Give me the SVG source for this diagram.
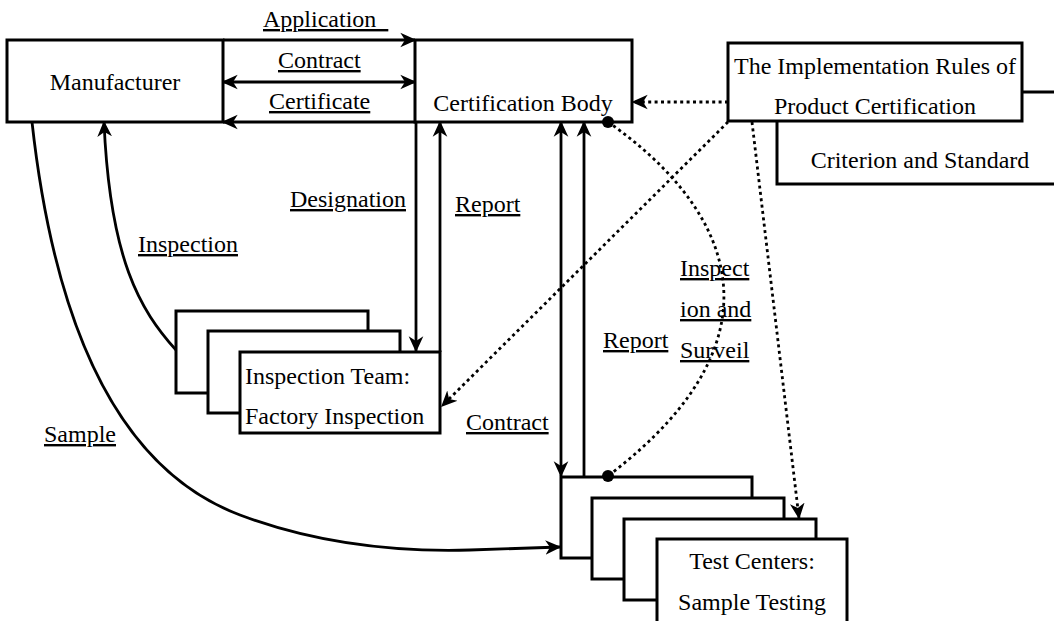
<svg xmlns="http://www.w3.org/2000/svg" width="1054" height="621" viewBox="0 0 1054 621">
  <style>
    .box { fill: #fff; stroke: #000; stroke-width: 3; }
    .t { font-family: "Liberation Serif", "Times New Roman", serif; font-size: 24px; fill: #000; }
    .c { text-anchor: middle; }
    .lbl { text-decoration: underline; }
    .ln { fill: none; stroke: #000; stroke-width: 2.8; }
    .dot { fill: none; stroke: #000; stroke-width: 2.8; stroke-dasharray: 3 3.4; }
  </style>
  <defs>
    <marker id="arr" viewBox="0 0 12 12" refX="11" refY="6" markerWidth="16" markerHeight="16" markerUnits="userSpaceOnUse" orient="auto-start-reverse">
      <path d="M0,0.5 L12,6 L0,11.5 L3.5,6 Z" fill="#000"/>
    </marker>
  </defs>

  <!-- standards documents -->
  <g id="criterion">
    <rect class="box" x="777" y="92" width="300" height="92"/>
    <text class="t c" x="920" y="168">Criterion and Standard</text>
  </g>
  <g id="rules">
    <rect class="box" x="728" y="43" width="294" height="78"/>
    <text class="t c" x="875" y="74">The Implementation Rules of</text>
    <text class="t c" x="875" y="114">Product Certification</text>
  </g>

  <g id="manufacturer">
    <rect class="box" x="7" y="40" width="216" height="82"/>
    <text class="t c" x="115" y="90">Manufacturer</text>
  </g>

  <g id="certification-body">
    <rect class="box" x="415" y="40" width="217" height="82"/>
    <text class="t c" x="523" y="111">Certification Body</text>
  </g>

  <!-- stacked inspection team cards -->
  <g id="inspection-team">
    <rect class="box" x="176" y="311" width="192" height="82"/>
    <rect class="box" x="208" y="331" width="192" height="82"/>
    <rect class="box" x="240" y="352" width="200" height="81"/>
    <text class="t" x="245" y="384">Inspection Team:</text>
    <text class="t" x="245" y="424">Factory Inspection</text>
  </g>

  <!-- stacked test center cards -->
  <g id="test-centers">
    <rect class="box" x="561" y="477" width="191" height="81"/>
    <rect class="box" x="592" y="498" width="192" height="81"/>
    <rect class="box" x="624" y="519" width="192" height="81"/>
    <rect class="box" x="657" y="539" width="190" height="90"/>
    <text class="t c" x="752" y="569">Test Centers:</text>
    <text class="t c" x="752" y="610">Sample Testing</text>
  </g>

  <g id="connectors">
    <!-- manufacturer / certification body -->
    <path class="ln" d="M223,40 H415" marker-end="url(#arr)"/>
    <path class="ln" d="M223,82 H415" marker-start="url(#arr)" marker-end="url(#arr)"/>
    <path class="ln" d="M415,122 H223" marker-end="url(#arr)"/>
    <!-- certification body / inspection team -->
    <path class="ln" d="M416,122 V351" marker-end="url(#arr)"/>
    <path class="ln" d="M440,352 V122" marker-end="url(#arr)"/>
    <!-- certification body / test centers -->
    <path class="ln" d="M561,122 V476" marker-start="url(#arr)" marker-end="url(#arr)"/>
    <path class="ln" d="M584,477 V122" marker-end="url(#arr)"/>
    <!-- inspection team to manufacturer -->
    <path class="ln" d="M176,350 C140,310 110,260 104,122" marker-end="url(#arr)"/>
    <!-- sample to test centers -->
    <path class="ln" d="M32,122 C55,330 120,470 240,515 C320,545 400,552 470,550 L560,547" marker-end="url(#arr)"/>
    <!-- dotted: rules references -->
    <path class="dot" d="M728,102 H633" marker-end="url(#arr)"/>
    <path class="dot" d="M728,122 L442,406" marker-end="url(#arr)"/>
    <path class="dot" d="M752,122 L799,518" marker-end="url(#arr)"/>
    <!-- dotted: inspection and surveillance -->
    <path class="dot" d="M608,122 C720,200 800,330 608,476"/>
    <circle cx="608" cy="122" r="6" fill="#000"/>
    <circle cx="608" cy="476" r="6" fill="#000"/>
  </g>

  <g id="labels">
    <text class="t lbl" x="263" y="27" xml:space="preserve">Application  </text>
    <text class="t lbl" x="278" y="68">Contract</text>
    <text class="t lbl" x="269" y="109">Certificate</text>
    <text class="t lbl" x="290" y="207">Designation</text>
    <text class="t lbl" x="455" y="212">Report</text>
    <text class="t lbl" x="138" y="252">Inspection</text>
    <text class="t lbl" x="44" y="442">Sample</text>
    <text class="t lbl" x="466" y="430">Contract</text>
    <text class="t lbl" x="603" y="348">Report</text>
    <text class="t lbl" x="680" y="276">Inspect</text>
    <text class="t lbl" x="680" y="317">ion and</text>
    <text class="t lbl" x="680" y="358">Surveil</text>
  </g>
</svg>
